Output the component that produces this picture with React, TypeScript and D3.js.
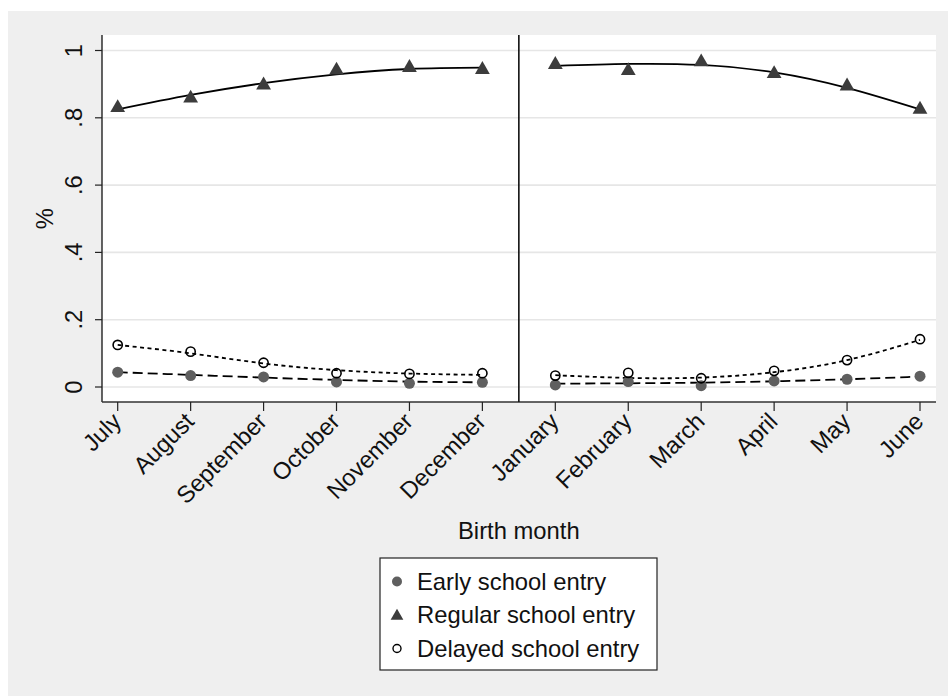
import React from "react";
import * as d3 from "d3";

const months = ["July","August","September","October","November","December","January","February","March","April","May","June"];
const early = [0.044,0.034,0.030,0.015,0.011,0.014,0.006,0.016,0.004,0.018,0.023,0.032];
const regular = [0.833,0.861,0.900,0.944,0.952,0.946,0.961,0.943,0.969,0.934,0.897,0.828];
const delayed = [0.125,0.105,0.072,0.041,0.039,0.041,0.034,0.042,0.026,0.048,0.080,0.142];
const fitEarly = [0.044,0.036,0.028,0.021,0.016,0.014,0.010,0.011,0.013,0.017,0.023,0.031];
const fitRegular = [0.825,0.868,0.903,0.929,0.945,0.949,0.954,0.960,0.957,0.935,0.889,0.825];
const fitDelayed = [0.125,0.100,0.070,0.050,0.040,0.036,0.035,0.027,0.028,0.044,0.080,0.140];
const yTicks = [0,0.2,0.4,0.6,0.8,1];
const yTickLabels = ["0",".2",".4",".6",".8","1"];
const legendLabels = ["Early school entry","Regular school entry","Delayed school entry"];

const W = 948, H = 696;
const plotL = 102, plotR = 936, plotT = 35, plotB = 402;
const FONT = "'Liberation Sans', Arial, Helvetica, sans-serif";
const FS = 23.8;

export default function App() {
  const x = d3.scaleLinear().domain([0, 11]).range([117.7, 920]);
  const y = d3.scaleLinear().domain([0, 1]).range([387, 50.5]);
  const idx = months.map((_, i) => i);
  const halves = [idx.slice(0, 6), idx.slice(6)];
  const mkLine = (arr: number[]) =>
    d3.line<number>().x(i => x(i)).y(i => y(arr[i])).curve(d3.curveNatural);
  const tri = d3.symbol().type(d3.symbolTriangle).size(95);
  const triLeg = d3.symbol().type(d3.symbolTriangle).size(70);
  const sepX = (x(5) + x(6)) / 2;

  return (
    <div style={{ position: "absolute", left: 0, top: 0 }}>
      <svg width={W} height={H} style={{ display: "block" }} fontFamily={FONT}>
        <rect x={0} y={0} width={W} height={H} fill="#ffffff" />
        <rect x={8} y={11} width={W - 8} height={H - 11} fill="#efefef" />
        <rect x={plotL} y={plotT} width={plotR - plotL} height={plotB - plotT} fill="#ffffff" />
        {yTicks.map((t, i) => (
          <line key={"g" + i} x1={plotL} x2={plotR} y1={y(t)} y2={y(t)} stroke="#e6e6e6" strokeWidth={1.6} />
        ))}
        <line x1={plotL} x2={plotL} y1={plotT} y2={plotB} stroke="#222" strokeWidth={1.4} />
        <line x1={plotL} x2={plotR} y1={plotB} y2={plotB} stroke="#333" strokeWidth={1.4} />
        {yTicks.map((t, i) => (
          <g key={"yt" + i}>
            <line x1={plotL - 7} x2={plotL} y1={y(t)} y2={y(t)} stroke="#222" strokeWidth={1.2} />
            <text transform={`translate(${82},${y(t)}) rotate(-90)`} textAnchor="middle" fontSize={FS} fill="#111">{yTickLabels[i]}</text>
          </g>
        ))}
        {months.map((m, i) => (
          <g key={"xt" + i}>
            <line x1={x(i)} x2={x(i)} y1={plotB} y2={plotB + 9} stroke="#222" strokeWidth={1.2} />
            <text transform={`translate(${x(i) - 1},${plotB + 15}) rotate(-45)`} textAnchor="end" dy="0.35em" fontSize={FS} fill="#111">{m}</text>
          </g>
        ))}
        <text transform={`translate(53,${y(0.5)}) rotate(-90)`} textAnchor="middle" fontSize={FS} fill="#111">%</text>
        <text x={sepX} y={539} textAnchor="middle" fontSize={FS} fill="#111">Birth month</text>
        <line x1={sepX} x2={sepX} y1={plotT} y2={plotB} stroke="#111" strokeWidth={1.6} />
        {halves.map((h, k) => (
          <g key={"fit" + k} fill="none" stroke="#000">
            <path d={mkLine(fitRegular)(h) || ""} strokeWidth={1.8} />
            <path d={mkLine(fitDelayed)(h) || ""} strokeWidth={1.8} strokeDasharray="4,3.5" />
            <path d={mkLine(fitEarly)(h) || ""} strokeWidth={1.8} strokeDasharray="10,5" />
          </g>
        ))}
        {idx.map(i => (
          <g key={"m" + i}>
            <circle cx={x(i)} cy={y(early[i])} r={5.5} fill="#5f5f5f" />
            <circle cx={x(i)} cy={y(delayed[i])} r={4.6} fill="none" stroke="#000" strokeWidth={1.6} />
            <path d={tri() || ""} transform={`translate(${x(i)},${y(regular[i]) + 1})`} fill="#3c3c3c" />
          </g>
        ))}
        <rect x={380} y={558} width={277} height={112} fill="#ffffff" stroke="#222" strokeWidth={1.2} />
        {legendLabels.map((lab, i) => {
          const cy = 581.5 + i * 33.5;
          return (
            <g key={"lg" + i}>
              {i === 0 && <circle cx={397} cy={cy} r={5} fill="#5f5f5f" />}
              {i === 1 && <path d={triLeg() || ""} transform={`translate(397,${cy + 1})`} fill="#3c3c3c" />}
              {i === 2 && <circle cx={397} cy={cy} r={4} fill="#fff" stroke="#000" strokeWidth={1.4} />}
              <text x={417} y={cy + 8} fontSize={FS} fill="#111">{lab}</text>
            </g>
          );
        })}
      </svg>
    </div>
  );
}
